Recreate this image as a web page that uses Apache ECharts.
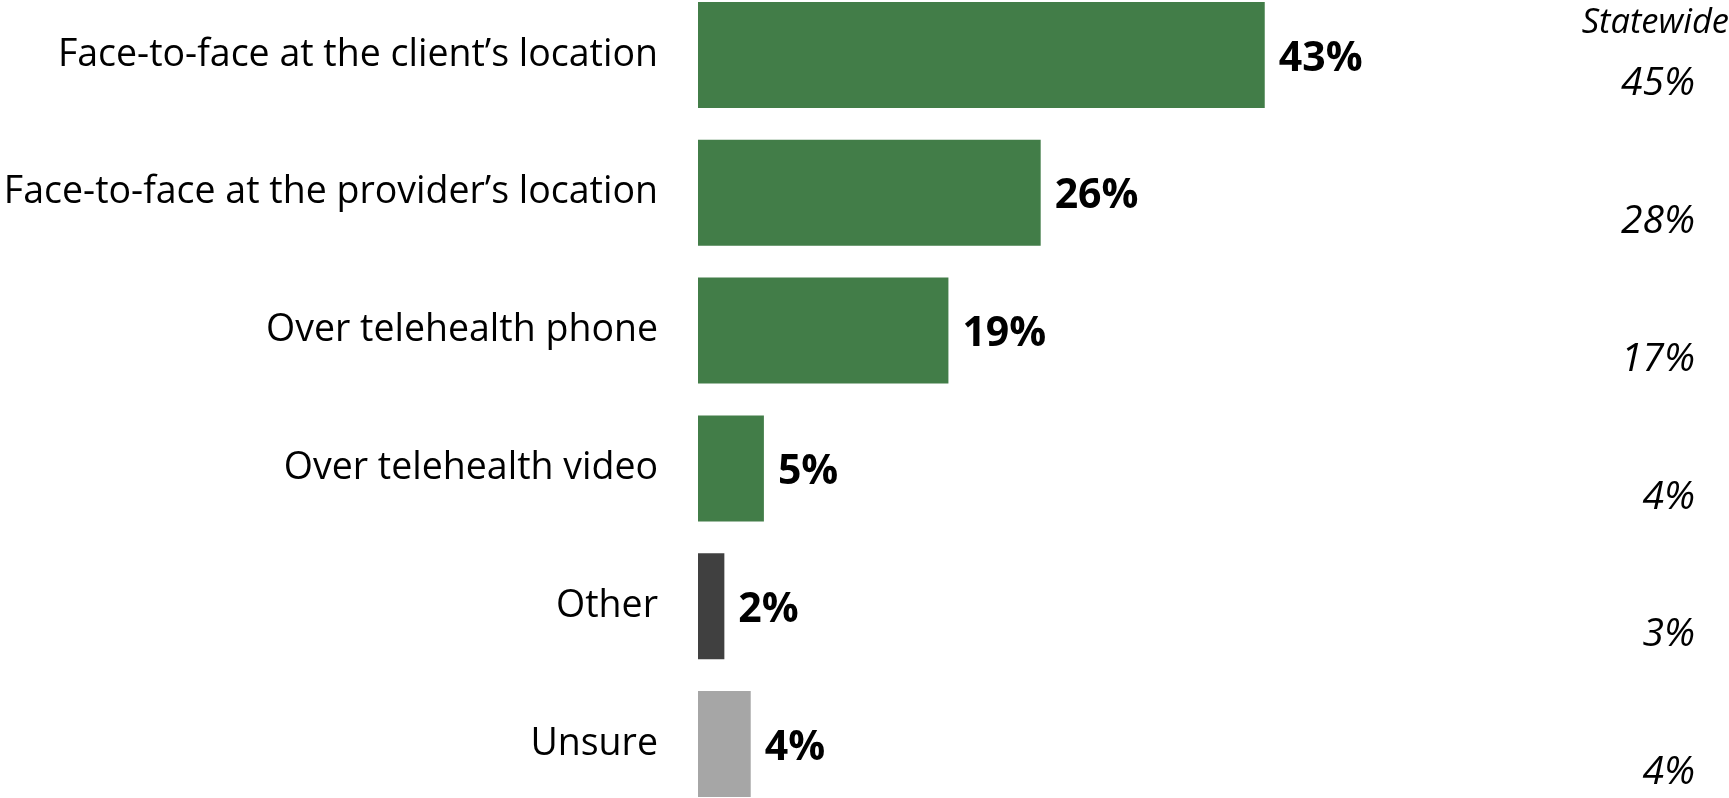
<!DOCTYPE html>
<html>
<head>
<meta charset="utf-8">
<script src="https://cdn.jsdelivr.net/npm/echarts@6/dist/echarts.min.js"></script>
<style>
html,body{margin:0;padding:0;background:#fff;}
#main{width:1729px;height:798px;}
</style>
</head>
<body>
<div id="main"></div>
<script>
const categories = [
  "Face-to-face at the client\u2019s location",
  "Face-to-face at the provider\u2019s location",
  "Over telehealth phone",
  "Over telehealth video",
  "Other",
  "Unsure"
];
const values = [43, 26, 19, 5, 2, 4];
const statewide = [45, 28, 17, 4, 3, 4];
const statewideTitle = "Statewide";

const barColors = ["#427D48", "#427D48", "#427D48", "#427D48", "#404040", "#A6A6A6"];
const FONT = "Open Sans";

const chart = echarts.init(document.getElementById('main'), null, {renderer: 'canvas'});
chart.setOption({
  animation: false,
  backgroundColor: '#ffffff',
  graphic: [{
    type: 'text',
    right: 0,
    top: 6,
    style: {text: statewideTitle, font: 'italic 34.5px "Open Sans"', fill: '#000'}
  }],
  grid: {left: 698, width: 1054.4, top: -14, height: 827, containLabel: false, outerBoundsMode: 'none'},
  xAxis: {type: 'value', min: 0, max: 80, show: false},
  yAxis: [
    {
      type: 'category',
      data: categories,
      inverse: true,
      axisLine: {show: false},
      axisTick: {show: false},
      axisLabel: {fontFamily: FONT, fontSize: 37.5, color: '#000', margin: 40}
    },
    {
      type: 'category',
      data: categories,
      inverse: true,
      position: 'left',
      offset: -997,
      axisLine: {show: false},
      axisTick: {show: false},
      axisLabel: {
        fontFamily: FONT, fontStyle: 'italic', fontSize: 39, color: '#000', margin: 0,
        align: 'right', verticalAlign: 'top', lineHeight: 58,
        formatter: (v, i) => statewide[i] + '%'
      }
    }
  ],
  series: [{
    type: 'bar',
    yAxisIndex: 0,
    data: values.map((v, i) => ({value: v, itemStyle: {color: barColors[i]}})),
    barWidth: 106,
    label: {
      show: true,
      position: 'right',
      distance: 12,
      offset: [2, 4],
      formatter: '{c}%',
      fontFamily: FONT,
      fontWeight: 'bold',
      fontSize: 41,
      color: '#000'
    }
  }]
});
</script>
</body>
</html>
